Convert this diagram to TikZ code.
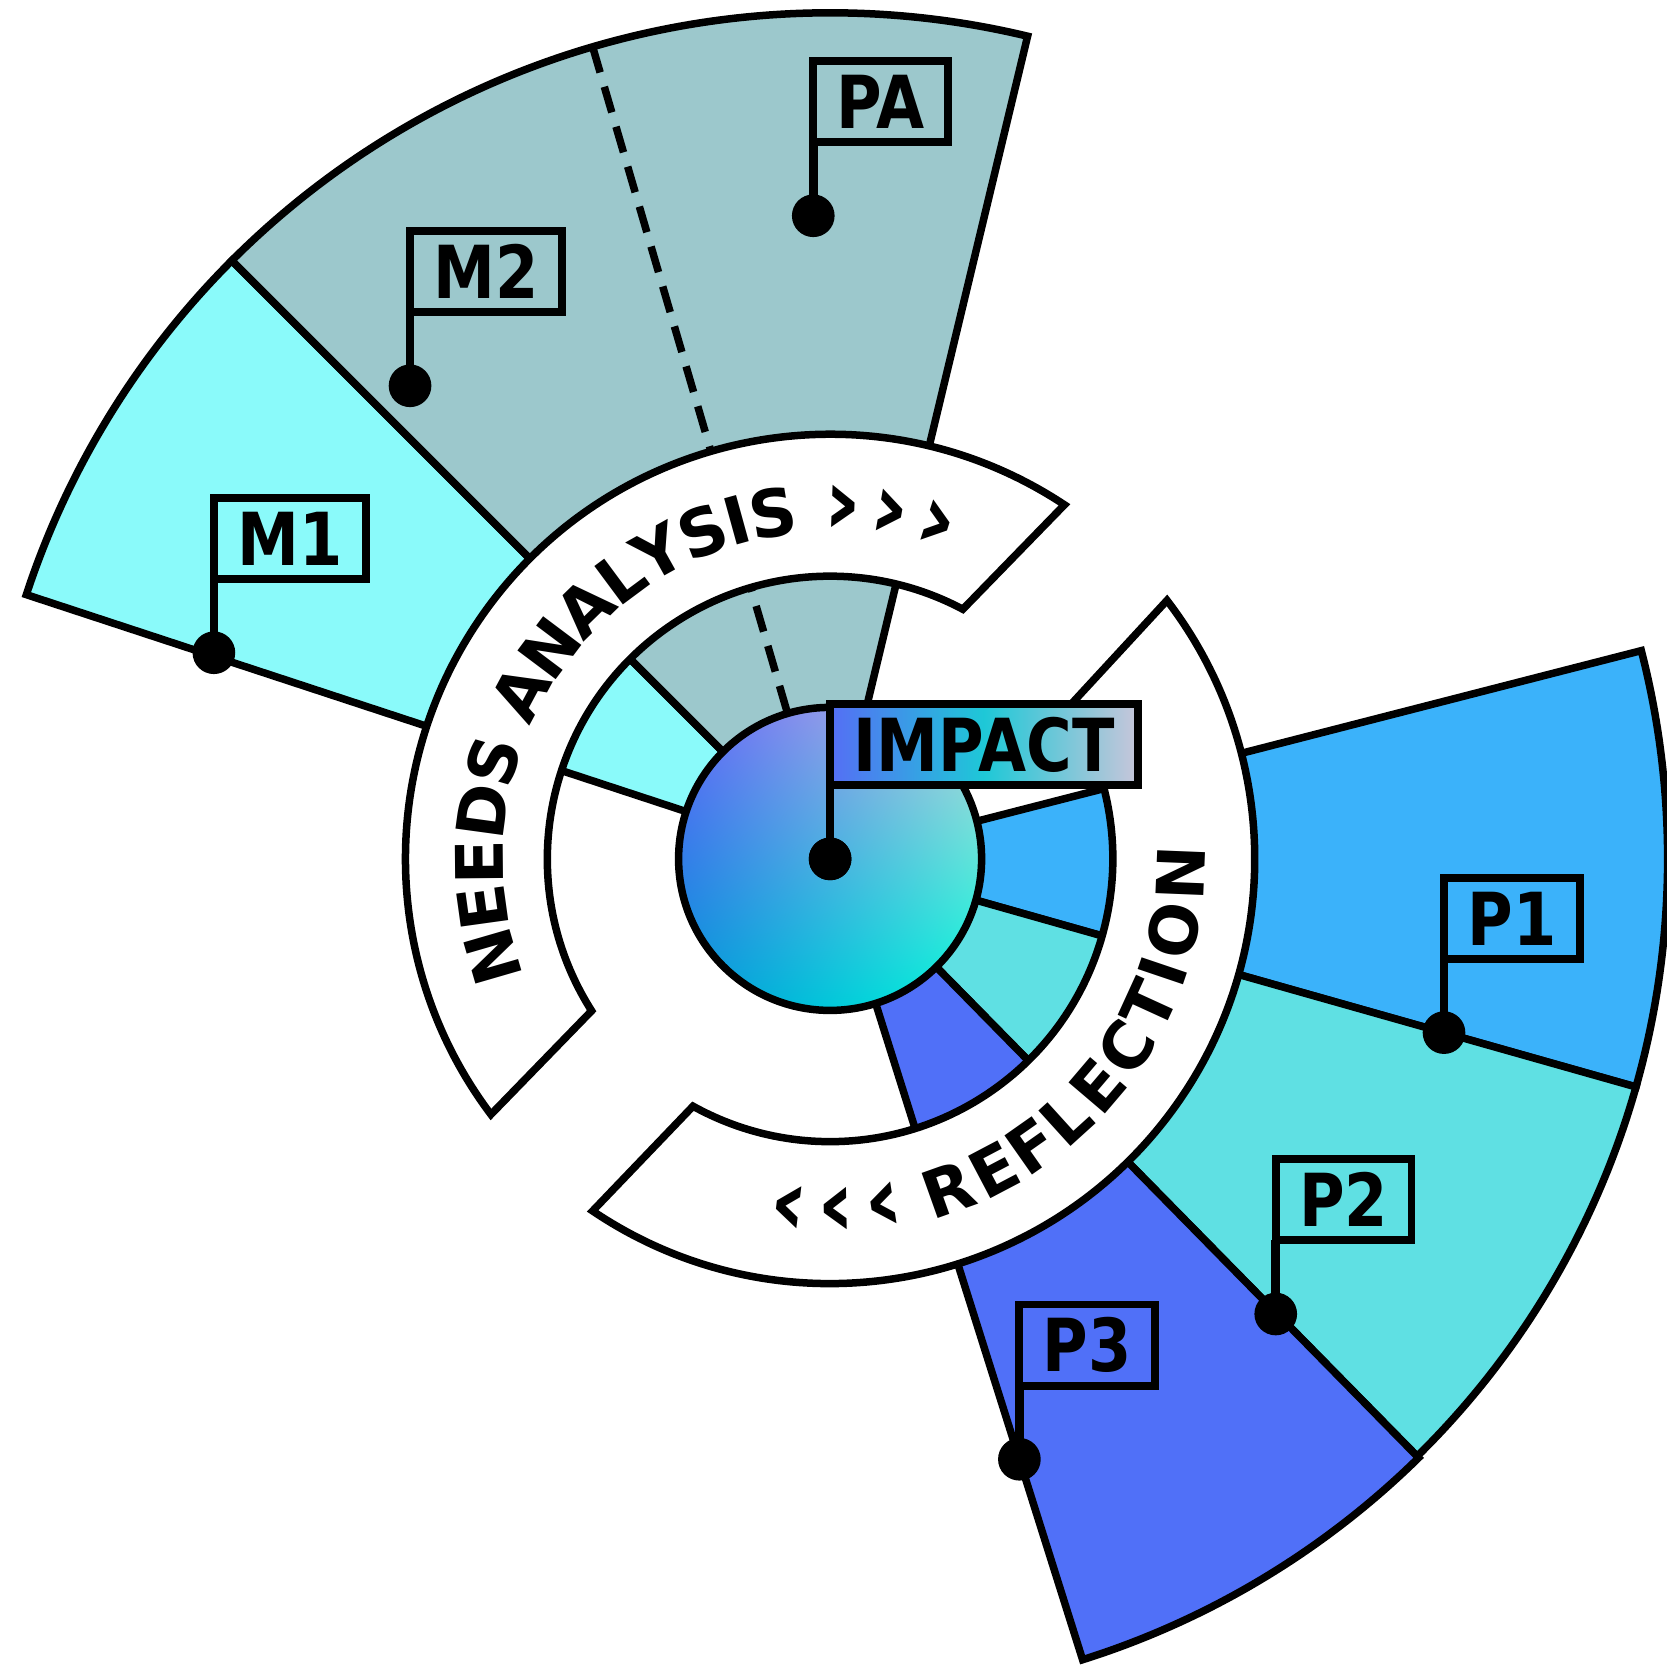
\documentclass[tikz,border=0pt]{standalone}
\usepackage{fontspec}
\usetikzlibrary{shadings}
\setmainfont{DejaVu Sans}
\newfontfamily\lblfont[FakeStretch=0.85]{DejaVu Sans}
\definecolor{segcyan}{RGB}{138,250,250}
\definecolor{seggrey}{RGB}{156,200,204}
\definecolor{segblue}{RGB}{59,178,250}
\definecolor{segteal}{RGB}{95,224,227}
\definecolor{segviolet}{RGB}{80,112,248}
\definecolor{hubul}{RGB}{100,100,250}
\definecolor{hubur}{RGB}{190,210,215}
\definecolor{hubll}{RGB}{0,150,215}
\definecolor{hublr}{RGB}{0,250,220}
\definecolor{impl}{RGB}{85,110,245}
\definecolor{impm}{RGB}{30,200,215}
\definecolor{impr}{RGB}{200,198,218}
\begin{document}
\begin{tikzpicture}[line width=2pt]
    \tikzstyle{seg}=[draw=black, line width=2pt]
    \tikzstyle{band}=[draw=black, fill=white, line width=2pt]
    \tikzstyle{tdot}=[circle, fill=black, inner sep=0mm, minimum size=4mm]
    \tikzstyle{flagbox}=[draw, line width=2.1pt, anchor=south west, outer sep=0pt, minimum height=7.6mm, inner xsep=2.2mm, inner ysep=0mm, font=\lblfont\bfseries\fontsize{19.5}{19.5}\selectfont]
    \tikzstyle{pole}=[line width=2.3pt]
    \tikzstyle{glyph}=[inner sep=0mm, font=\bfseries\fontsize{17.5}{17.5}\selectfont]
    \tikzstyle{chev}=[inner sep=0mm, font=\bfseries\fontsize{25}{25}\selectfont]
    \def\rin{2.65}
    \def\rring{3.98}
    \def\rmid{3.29}
    \def\rhub{1.42}

    \useasboundingbox (-7.78,-7.63) rectangle (7.84,8.05);

    \foreach \a/\b/\r/\c in {161.8/135/7.93/segcyan, 135/76.5/7.93/seggrey, 14.4/-15.8/7.85/segblue, -15.8/-45.5/7.85/segteal, -45.5/-72.5/7.87/segviolet}
        \draw[seg, fill=\c] (0,0) -- (\a:\r) arc (\a:\b:\r) -- cycle;

    \draw[seg, dash pattern=on 2.5mm off 1.4mm] (106.3:7.93) -- (106.3:\rhub);

    \draw[band] (56.5:\rring) arc (56.5:217:\rring) -- (212.5:\rin) arc (212.5:62:\rin) -- cycle;
    \draw[band] (236:\rring) arc (236:397.5:\rring) -- (392.5:\rin) arc (392.5:241:\rin) -- cycle;

    \foreach \ch/\a [count=\i] in {N/196.2, E/187.9, E/180.5, D/172.2, S/163.8, A/151.8, N/143.1, A/134.3, L/126.6, Y/119.2, S/111.3, I/105.4, S/99.4}
        \node[glyph, rotate=\a-90] (na\i) at (\a:\rmid) {\ch};
    \foreach \a [count=\i] in {87.9, 80.2, 72.3}
        \node[chev, rotate=\a-90] (nachev\i) at (\a:3.27) {›};
    \foreach \ch/\a [count=\i] in {R/289.6, E/297.8, F/305.1, L/312.2, E/319.6, C/327.5, T/335.4, I/341.3, O/348.2, N/357.7}
        \node[glyph, rotate=\a+90] (rf\i) at (\a:\rmid) {\ch};
    \foreach \a [count=\i] in {263.2, 271.0, 278.7}
        \node[chev, rotate=\a+90] (rfchev\i) at (\a:3.31) {‹};

    \node[circle, draw=black, line width=2pt, minimum size=2.84cm, inner sep=0mm,
        upper left=hubul, upper right=hubur, lower left=hubll, lower right=hublr] (hub) at (0,0) {};

    \node[tdot] (impactdot) at (hub.center) {};
    \node[flagbox, left color=impl, right color=impr, middle color=impm] (impact) at ([yshift=6.9mm]impactdot.center) {IMPACT};
    \draw[pole] (impactdot.center) -- (impact.south west);
    \node[tdot] at (impactdot.center) {};

    \foreach \nm/\a/\r/\txt in {m1/161.5/6.09/M1, m2/131.6/5.93/M2, pa/91.5/6.03/PA, p1/-15.8/5.98/P1, p2/-45.6/5.97/P2, p3/-72.5/5.90/P3} {
        \node[tdot] (\nm dot) at (\a:\r) {};
        \node[flagbox] (\nm) at ([yshift=6.9mm]\nm dot.center) {\txt};
        \draw[pole] (\nm dot.center) -- (\nm.south west);
    }
\end{tikzpicture}
\end{document}
